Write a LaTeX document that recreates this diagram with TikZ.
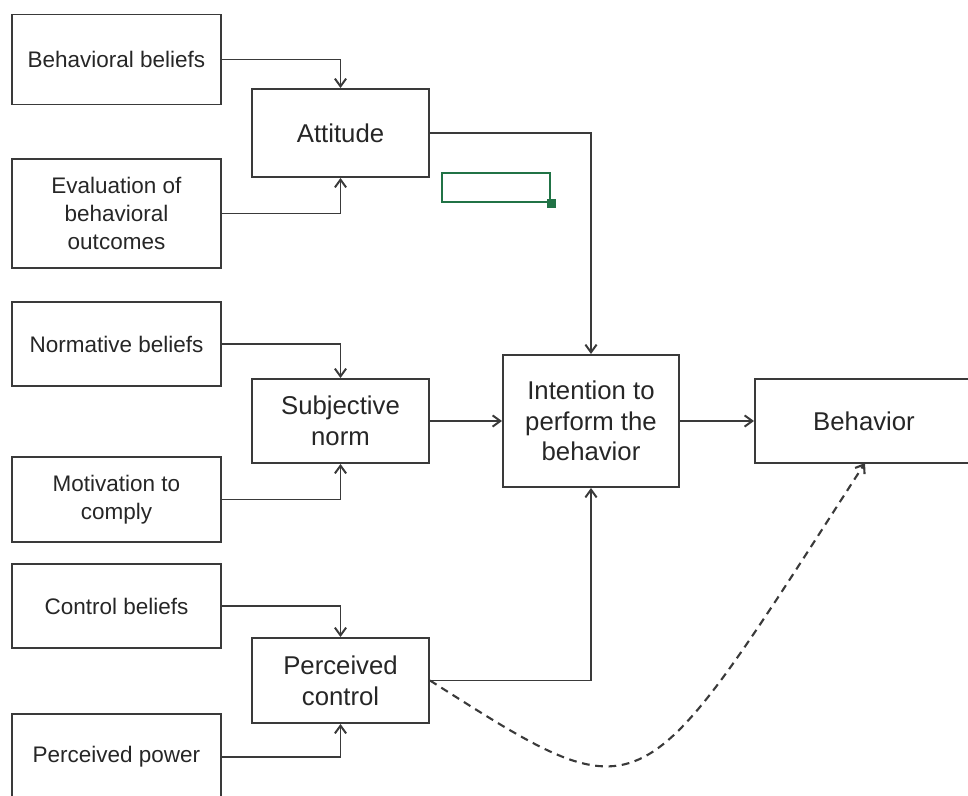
\documentclass[tikz,border=0pt]{standalone}
\usepackage{fontspec}
\setmainfont{Liberation Sans}
\usetikzlibrary{arrows.meta}
\definecolor{ink}{HTML}{3A3A3A}
\definecolor{txt}{HTML}{262626}
\definecolor{selgreen}{HTML}{217346}
\begin{document}
\begin{tikzpicture}[x=0.025cm,y=-0.025cm,
  box/.style={draw=ink,line width=1.4pt,inner sep=0pt,align=center,text=txt},
  srcbox/.style={box,minimum width=5.225cm,font=\fontsize{16}{19.6}\selectfont},
  midbox/.style={box,minimum width=4.425cm,font=\fontsize{18.3}{21.8}\selectfont},
  link/.style={draw=ink,line width=1.4pt,-{Straight Barb[length=5.5pt,width=8pt]}},
  effect/.style={link,line width=1.5pt,dashed,dash pattern=on 5.5pt off 4pt}]
\useasboundingbox (0,0) rectangle (968,796);
\clip (0,0) rectangle (968,796);

% belief boxes on the left
\node[srcbox,minimum height=2.25cm]  (bb)   at (116.5,59.5)  {Behavioral beliefs};
\node[srcbox,minimum height=2.725cm] (eval) at (116.5,213.5) {Evaluation of\\behavioral\\outcomes};
\node[srcbox,minimum height=2.1cm]   (nb)   at (116.5,344)   {Normative beliefs};
\node[srcbox,minimum height=2.125cm] (mc)   at (116.5,499.5) {Motivation to\\comply};
\node[srcbox,minimum height=2.1cm]   (cb)   at (116.5,606)   {Control beliefs};
\node[srcbox,minimum height=2.15cm]  (pp)   at (116.5,757)   {Perceived power};

% constructs in the middle
\node[midbox,minimum height=2.2cm]   (att) at (340.5,133) {Attitude};
\node[midbox,minimum height=2.1cm]   (sn)  at (340.5,421) {Subjective\\norm};
\node[midbox,minimum height=2.125cm] (pc)  at (340.5,680.5) {Perceived\\control};

% intention and behaviour
\node[midbox,minimum width=4.4cm,minimum height=3.3cm] (int) at (591,421) {Intention to\\perform the\\behavior};
\node[midbox,minimum width=5.45cm,minimum height=2.1cm] (beh) at (864,421) {Behavior};

% selected cell marker
\node[draw=selgreen,line width=1.8pt,minimum width=2.7cm,minimum height=0.725cm,inner sep=0pt] (sel) at (496,187.5) {};
\fill[selgreen] (sel.south east) ++(-4.5,-4.5) rectangle ++(9,9);

% connectors
\draw[link] (bb.east)   -| (att.north);
\draw[link] (eval.east) -| (att.south);
\draw[link] (nb.east)   -| (sn.north);
\draw[link] (mc.east)   -| (sn.south);
\draw[link] (cb.east)   -| (pc.north);
\draw[link] (pp.east)   -| (pc.south);
\draw[link] (att.east)  -| (int.north);
\draw[link] (sn.east)   -- (int.west);
\draw[link] (pc.east)   -| (int.south);
\draw[link] (int.east)  -- (beh.west);
\coordinate (bend) at (865,463);
\draw[effect] (pc.east) .. controls (649.5,819.8) and (636,817) .. (bend);
\end{tikzpicture}
\end{document}
